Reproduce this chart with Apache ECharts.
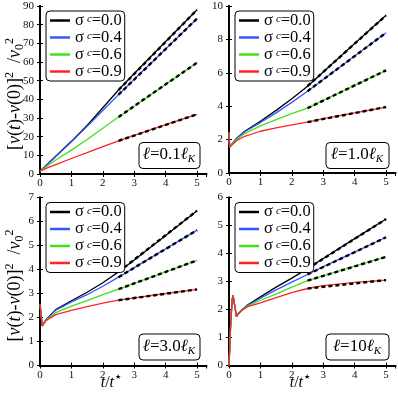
<!DOCTYPE html>
<html>
<head>
<meta charset="utf-8">
<script src="https://cdn.jsdelivr.net/npm/echarts/dist/echarts.min.js"></script>
<style>
html, body { margin: 0; padding: 0; background: #fff; }
#chart { width: 398px; height: 394px; }
</style>
</head>
<body>
<div id="chart"></div>
<script>
// sigma^c values (legend) and panel labels (l / l_K)
const sigmaNames = ['0.0', '0.4', '0.6', '0.9']
const panelLabels = ['0.1', '1.0', '3.0', '10']
const yMax = [90, 10, 7, 6]
const yStep = [10, 2, 1, 1]
const xTicks = [0, 1, 2, 3, 4, 5]
const fitFrom = 2.5
const fitTo = 5

// panel 1: l = 0.1 l_K
const t1 = [0, 0.25, 0.5, 1, 1.5, 2, 2.5, 3, 4, 5]
const p1Black = [1.5, 5.5, 9.5, 17.5, 26, 35.5, 45, 53.8, 71, 88]
const p1Blue = [1.5, 5.4, 9.3, 17.2, 25.5, 34, 42.5, 50.8, 67, 83.3]
const p1Green = [1.5, 4.6, 7.5, 12.8, 18.5, 24.5, 30.5, 36.3, 48, 59.7]
const p1Red = [1.5, 3.4, 5, 8.3, 11.5, 14.7, 17.8, 20.7, 26.5, 32]

// panel 2: l = 1.0 l_K
const t2 = [0, 0.02, 0.25, 0.5, 1, 1.5, 2, 2.5, 3, 4, 5]
const p2Black = [2.45, 1.55, 2.1, 2.5, 3.1, 3.75, 4.45, 5.2, 6.05, 7.75, 9.44]
const p2Blue = [2.45, 1.55, 2.08, 2.47, 3.02, 3.6, 4.23, 4.9, 5.6, 7.0, 8.4]
const p2Green = [2.45, 1.55, 2.02, 2.36, 2.82, 3.2, 3.55, 3.88, 4.35, 5.25, 6.15]
const p2Red = [2.45, 1.55, 1.95, 2.2, 2.5, 2.7, 2.88, 3.05, 3.25, 3.6, 3.95]

// panel 3: l = 3.0 l_K
const t3 = [0, 0.07, 0.2, 0.5, 1, 1.5, 2, 2.5, 3, 4, 5]
const p3Black = [2.55, 1.65, 1.92, 2.33, 2.7, 3.05, 3.45, 3.9, 4.4, 5.42, 6.45]
const p3Blue = [2.55, 1.65, 1.92, 2.3, 2.65, 2.95, 3.3, 3.68, 4.08, 4.86, 5.64]
const p3Green = [2.55, 1.65, 1.9, 2.2, 2.47, 2.7, 2.95, 3.18, 3.42, 3.9, 4.38]
const p3Red = [2.55, 1.65, 1.88, 2.12, 2.3, 2.45, 2.6, 2.72, 2.82, 3.0, 3.17]

// panel 4: l = 10 l_K
const t4 = [0, 0.05, 0.1, 0.13, 0.18, 0.235, 0.3, 0.4, 0.6, 1, 1.5, 2, 2.5, 3, 4, 5]
const p4Black = [0, 1.4, 2.35, 2.5, 2.15, 1.75, 1.85, 1.97, 2.17, 2.45, 2.8, 3.12, 3.46, 3.82, 4.53, 5.23]
const p4Blue = [0, 1.4, 2.35, 2.5, 2.15, 1.75, 1.85, 1.97, 2.15, 2.4, 2.7, 2.98, 3.25, 3.53, 4.05, 4.58]
const p4Green = [0, 1.4, 2.35, 2.5, 2.15, 1.75, 1.85, 1.97, 2.12, 2.33, 2.55, 2.8, 3.03, 3.2, 3.55, 3.88]
const p4Red = [0, 1.4, 2.35, 2.5, 2.15, 1.75, 1.85, 1.97, 2.1, 2.24, 2.42, 2.6, 2.75, 2.85, 2.97, 3.05]

const panels = [
  { t: t1, curves: [p1Black, p1Blue, p1Green, p1Red] },
  { t: t2, curves: [p2Black, p2Blue, p2Green, p2Red] },
  { t: t3, curves: [p3Black, p3Blue, p3Green, p3Red] },
  { t: t4, curves: [p4Black, p4Blue, p4Green, p4Red] }
]

const colors = ['#000000', '#3158ff', '#44e01a', '#ff2424']
const serif = "'Liberation Serif', 'DejaVu Serif', serif"

// pixel layout of the four plot boxes
const boxes = [
  { left: 40, top: 6, width: 166.5, height: 168 },
  { left: 229, top: 6, width: 166.5, height: 167 },
  { left: 40, top: 197.5, width: 166.5, height: 168 },
  { left: 229, top: 197.5, width: 166.5, height: 168 }
]
const xMax = 5.3

const frame = { show: true, lineStyle: { color: '#000', width: 1.8 } }
const tick = { show: true, inside: true, length: 3, lineStyle: { color: '#000', width: 1 } }
const tickLabel = { color: '#111', fontFamily: serif, fontSize: 11 }

const grid = []
const xAxis = []
const yAxis = []
const series = []
const legend = []
const graphic = []

boxes.forEach((b, p) => {
  grid.push(Object.assign({ show: false, outerBoundsMode: 'none' }, b))
  // bottom / top x axes
  xAxis.push({
    type: 'value', gridIndex: p, min: 0, max: xMax, interval: 1, position: 'bottom',
    axisLine: frame, axisTick: tick, splitLine: { show: false },
    axisLabel: Object.assign({ margin: 4, showMaxLabel: false,
      formatter: v => (xTicks.indexOf(v) >= 0 ? String(v) : '') }, tickLabel)
  })
  xAxis.push({
    type: 'value', gridIndex: p, min: 0, max: xMax, interval: 1, position: 'top',
    axisLine: frame, axisTick: tick, splitLine: { show: false }, axisLabel: { show: false }
  })
  // left / right y axes
  yAxis.push({
    type: 'value', gridIndex: p, min: 0, max: yMax[p], interval: yStep[p], position: 'left',
    axisLine: frame, axisTick: tick, splitLine: { show: false },
    axisLabel: Object.assign({ margin: 6 }, tickLabel)
  })
  yAxis.push({
    type: 'value', gridIndex: p, min: 0, max: yMax[p], interval: yStep[p], position: 'right',
    axisLine: frame, axisTick: tick, splitLine: { show: false }, axisLabel: { show: false }
  })

  const panel = panels[p]
  panel.curves.forEach((vals, k) => {
    series.push({
      type: 'line', name: sigmaNames[k], xAxisIndex: 2 * p, yAxisIndex: 2 * p,
      data: panel.t.map((t, i) => [t, vals[i]]),
      showSymbol: false, symbol: 'none', smooth: false,
      color: colors[k], lineStyle: { color: colors[k], width: 1.3 }, z: 2
    })
  })
  // dashed linear fits over 2.5 <= t <= 5
  panel.curves.forEach((vals, k) => {
    const a = vals[panel.t.indexOf(fitFrom)]
    const c = vals[panel.t.indexOf(fitTo)]
    series.push({
      type: 'line', name: 'fit', xAxisIndex: 2 * p, yAxisIndex: 2 * p,
      data: [[fitFrom, a], [fitTo, c]],
      showSymbol: false, symbol: 'none', silent: true,
      lineStyle: { color: '#000', width: 2.4, type: [4, 3] }, z: 3
    })
  })

  legend.push({
    data: sigmaNames, orient: 'vertical',
    left: b.left + 6, top: b.top + 5,
    icon: 'rect', itemWidth: 20, itemHeight: 2.5, itemGap: 0, itemTextGap: 4,
    padding: [1, 3, 1, 4],
    borderColor: '#000', borderWidth: 1, borderRadius: 4, backgroundColor: '#fff',
    selectedMode: false,
    formatter: name => '{a|σ}{c|c}{a|=' + name + '}',
    textStyle: {
      fontFamily: serif, color: '#000', fontSize: 16, lineHeight: 13.6,
      rich: {
        a: { fontFamily: serif, fontSize: 16.5, lineHeight: 13.6, color: '#000' },
        c: { fontFamily: serif, fontSize: 11, fontStyle: 'italic', lineHeight: 9,
          verticalAlign: 'top', padding: [0, 0, 0, 3], color: '#000' }
      }
    }
  })

  // l = ... l_K label box, bottom right
  const bw = p % 2 === 0 ? 61 : 63
  const bx = b.left + b.width - bw - 7
  const by = b.top + 136
  graphic.push({
    type: 'rect', left: bx, top: by, z: 10,
    shape: { width: bw, height: 26, r: 4 },
    style: { fill: '#fff', stroke: '#000', lineWidth: 1 }
  })
  graphic.push({
    type: 'text', x: bx + bw / 2, y: by + 13, z: 11,
    style: {
      text: '{i|ℓ}{n|=' + panelLabels[p] + '}{i|ℓ}{k|K}',
      align: 'center', verticalAlign: 'middle',
      rich: {
        i: { fontFamily: serif, fontSize: 17, fontStyle: 'italic', lineHeight: 20, fill: '#000' },
        n: { fontFamily: serif, fontSize: 17, lineHeight: 20, fill: '#000' },
        k: { fontFamily: serif, fontSize: 11, fontStyle: 'italic', lineHeight: 9,
          verticalAlign: 'bottom', fill: '#000' }
      }
    }
  })
})

// y axis titles (left column)
const yTitleRich = {
  b: { fontFamily: serif, fontSize: 18, lineHeight: 22, fill: '#000' },
  i: { fontFamily: serif, fontSize: 18, fontStyle: 'italic', lineHeight: 22, fill: '#000' },
  p: { fontFamily: serif, fontSize: 12, lineHeight: 10, verticalAlign: 'top', fill: '#000' },
  q: { fontFamily: serif, fontSize: 12, lineHeight: 10, verticalAlign: 'bottom', fill: '#000' }
}
const yTitleText = '{b|[}{i|v}{b|(}{i|t}{b|)-}{i|v}{b|(0)]}{p|2}{b|  /}{i|v}{q|0}{p|2}'
;[0, 2].forEach(p => {
  const b = boxes[p]
  graphic.push({
    type: 'text', x: 15, y: b.top + b.height / 2 + 4, rotation: Math.PI / 2, z: 10,
    style: { text: yTitleText, align: 'center', verticalAlign: 'middle', rich: yTitleRich }
  })
})

// x axis titles (bottom row)
;[2, 3].forEach(p => {
  const b = boxes[p]
  graphic.push({
    type: 'text', x: b.left + 71, y: b.top + b.height + 17, z: 10,
    style: {
      text: '{i|t}{b|/}{i|t}{s|★}',
      align: 'center', verticalAlign: 'middle',
      rich: {
        i: { fontFamily: serif, fontSize: 16, fontStyle: 'italic', lineHeight: 18, fill: '#000' },
        b: { fontFamily: serif, fontSize: 16, lineHeight: 18, fill: '#000' },
        s: { fontFamily: "'DejaVu Sans', sans-serif", fontSize: 7, lineHeight: 9,
          verticalAlign: 'top', padding: [0, 0, 0, 1], fill: '#000' }
      }
    }
  })
})

const chart = echarts.init(document.getElementById('chart'), null, { renderer: 'canvas' })
chart.setOption({
  animation: false,
  backgroundColor: '#fff',
  grid: grid,
  xAxis: xAxis,
  yAxis: yAxis,
  legend: legend,
  series: series,
  graphic: graphic
})
</script>
</body>
</html>
